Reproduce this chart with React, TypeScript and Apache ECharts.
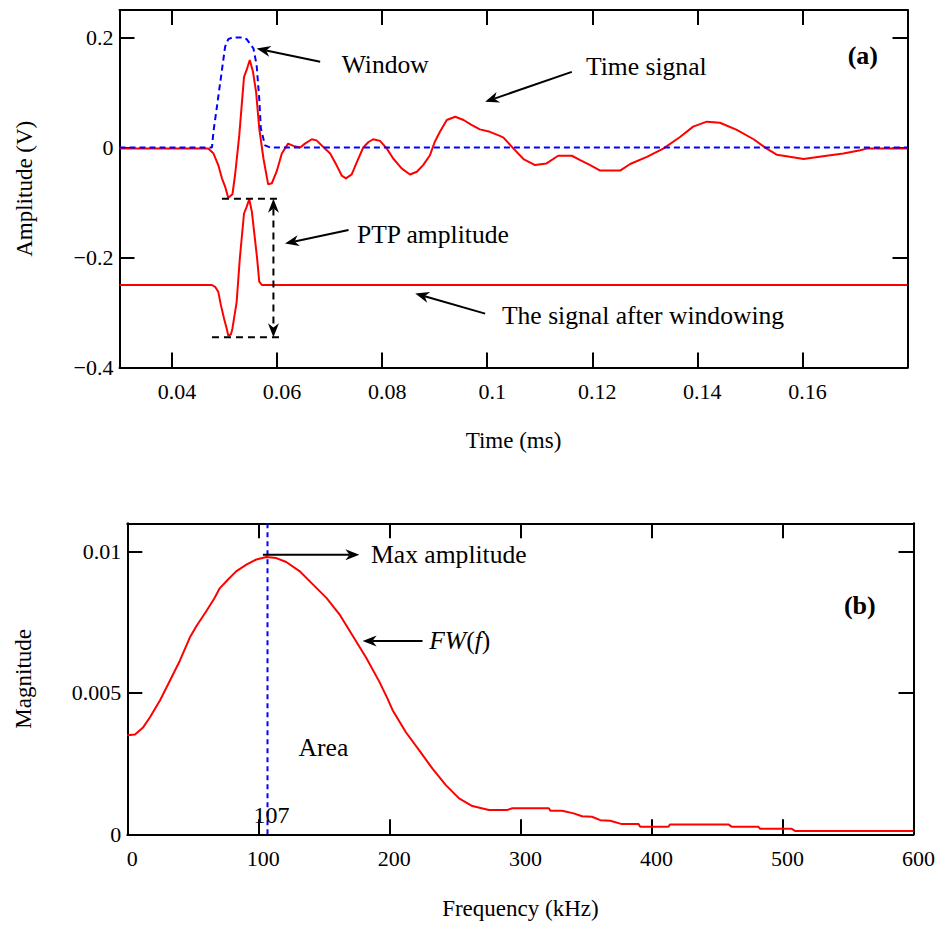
import React, { useEffect, useRef } from "react";
import * as echarts from "echarts";

// ---------- Data ----------
// (a) Time signal
const timeT = [0.03, 0.0469, 0.0479, 0.0488, 0.0495, 0.0501, 0.0507, 0.0515, 0.052, 0.0528, 0.0537, 0.0542, 0.0548, 0.0554, 0.056, 0.0566, 0.0574, 0.0583, 0.059, 0.0599, 0.0609, 0.0621, 0.0631, 0.0644, 0.0653, 0.0666, 0.0675, 0.0688, 0.0701, 0.0713, 0.0723, 0.0731, 0.0742, 0.0752, 0.0764, 0.0774, 0.0783, 0.0796, 0.0809, 0.0821, 0.0837, 0.0853, 0.0866, 0.0878, 0.0891, 0.09, 0.091, 0.0923, 0.0939, 0.0955, 0.097, 0.0986, 0.1005, 0.1024, 0.1031, 0.105, 0.1069, 0.1091, 0.1113, 0.1135, 0.1161, 0.1177, 0.1196, 0.1215, 0.1253, 0.1272, 0.1304, 0.1335, 0.1367, 0.1392, 0.1418, 0.1443, 0.1475, 0.1507, 0.1532, 0.1551, 0.1576, 0.1602, 0.1646, 0.1678, 0.171, 0.1722, 0.18];
const timeV = [-0.002, -0.002, -0.011, -0.032, -0.056, -0.071, -0.0915, -0.085, -0.05, 0.0225, 0.128, 0.141, 0.159, 0.138, 0.101, 0.035, -0.02, -0.067, -0.065, -0.044, -0.011, 0.007, 0.003, 0, 0.007, 0.015, 0.013, 0.001, -0.011, -0.032, -0.051, -0.056, -0.049, -0.026, 0, 0.01, 0.015, 0.012, -0.002, -0.02, -0.038, -0.049, -0.044, -0.032, -0.014, 0.01, 0.0285, 0.05, 0.056, 0.05, 0.041, 0.033, 0.0285, 0.021, 0.018, -0.002, -0.021, -0.032, -0.029, -0.015, -0.015, -0.023, -0.032, -0.042, -0.042, -0.03, -0.017, -0.002, 0.019, 0.038, 0.047, 0.045, 0.032, 0.015, -0.002, -0.013, -0.017, -0.021, -0.015, -0.011, -0.005, -0.002, -0.002];

// (a) Window
const winT = [0.03, 0.0476, 0.0479, 0.0485, 0.0491, 0.0501, 0.0507, 0.0515, 0.0535, 0.0542, 0.0555, 0.0561, 0.0566, 0.0569, 0.0577, 0.0587, 0.18];
const winV = [0, 0, 0.03, 0.071, 0.113, 0.183, 0.197, 0.2, 0.2, 0.197, 0.18, 0.15, 0.089, 0.035, 0.004, 0, 0];

// (a) Signal after windowing
const wsT = [0.03, 0.0476, 0.0482, 0.0488, 0.0493, 0.0499, 0.0504, 0.0507, 0.0512, 0.0515, 0.0523, 0.0529, 0.0537, 0.0542, 0.0547, 0.0552, 0.0558, 0.0562, 0.0566, 0.0571, 0.0574, 0.18];
const wsV = [-0.25, -0.25, -0.2533, -0.2624, -0.2866, -0.311, -0.329, -0.342, -0.34, -0.329, -0.281, -0.202, -0.12, -0.108, -0.094, -0.117, -0.168, -0.202, -0.244, -0.25, -0.25, -0.25];

// (b) Spectrum FW(f)
const freqF = [0, 5.9, 12.2, 17.3, 24.9, 30, 40.1, 47.7, 52.8, 60.4, 66.7, 70.5, 76.9, 83.3, 90.9, 98.5, 106.1, 113.7, 121.3, 131.4, 141.6, 151.8, 161.9, 172, 182.2, 192.3, 198.6, 202.4, 212.6, 222.8, 232.9, 243.1, 253.2, 263.3, 276, 290, 293.8, 321.7, 323, 331.8, 340.7, 347, 354.6, 361, 368.6, 377.5, 390.2, 391.4, 413, 414.3, 458.7, 461.2, 481.5, 482.8, 506.8, 509.5, 600];
const freqM = [0.0035, 0.00353, 0.00379, 0.00414, 0.00473, 0.0052, 0.00614, 0.00696, 0.00737, 0.0079, 0.00837, 0.0087, 0.00901, 0.00931, 0.00954, 0.00972, 0.00981, 0.00977, 0.00963, 0.00931, 0.00884, 0.00837, 0.00778, 0.00702, 0.00625, 0.0054, 0.0048, 0.0044, 0.00361, 0.00297, 0.00232, 0.00174, 0.00127, 0.001, 0.00086, 0.00086, 0.00092, 0.00092, 0.00083, 0.00083, 0.00074, 0.00064, 0.00062, 0.0005, 0.00048, 0.00036, 0.00036, 0.00027, 0.00027, 0.00035, 0.00035, 0.00027, 0.00027, 0.0002, 0.0002, 0.00012, 0.00012];

const peakFreq = 107;

// Tick values
const timeTicks = [0.04, 0.06, 0.08, 0.1, 0.12, 0.14, 0.16];
const ampTicks = [-0.4, -0.2, 0, 0.2];
const freqTicks = [0, 100, 200, 300, 400, 500, 600];
const magTicks = [0, 0.005, 0.01];

const FONT = "Liberation Serif";
const ANN = 25.6;

function pairs(xs: number[], ys: number[]) {
  return xs.map((x, i) => [x, ys[i]]);
}

function fmt(v: number) {
  return v < 0 ? "\u2212" + String(-v) : String(v);
}

function axisBase(ticks: number[], showLabel: boolean, extra: any = {}) {
  return {
    type: "value",
    axisLine: { show: true, onZero: false, lineStyle: { color: "#000", width: 2 } },
    axisTick: { show: true, inside: true, length: 15, customValues: ticks, lineStyle: { color: "#000", width: 2 } },
    axisLabel: showLabel
      ? { show: true, customValues: ticks, formatter: (v: number) => fmt(v), color: "#000", fontSize: 22, fontFamily: FONT }
      : { show: false },
    splitLine: { show: false },
    ...extra,
  };
}

export default function App() {
  const ref = useRef<HTMLDivElement>(null);
  useEffect(() => {
    const chart = echarts.init(ref.current!, null, { renderer: "svg" });
    const nameStyle = { color: "#000", fontSize: 23, fontFamily: FONT };
    const option: any = {
      animation: false,
      backgroundColor: "#fff",
      textStyle: { fontFamily: FONT },
      grid: [
        { left: 119.5, top: 10, width: 788, height: 357.5 },
        { left: 127.3, top: 523.3, width: 788.4, height: 311 },
      ],
      xAxis: [
        (() => {
          const a: any = axisBase(timeTicks, true, {
            gridIndex: 0, position: "bottom", min: 0.03, max: 0.18,
            name: "Time (ms)", nameLocation: "middle", nameGap: 61, nameTextStyle: nameStyle,
          });
          a.axisLabel.margin = 13;
          a.axisLabel.padding = [0, 0, 0, 10];
          return a;
        })(),
        axisBase(timeTicks, false, { gridIndex: 0, position: "top", min: 0.03, max: 0.18 }),
        (() => {
          const a: any = axisBase(freqTicks, true, {
            gridIndex: 1, position: "bottom", min: 0, max: 600,
            name: "Frequency (kHz)", nameLocation: "middle", nameGap: 63, nameTextStyle: nameStyle,
          });
          a.axisLabel.margin = 13;
          a.axisLabel.padding = [0, 0, 0, 10];
          return a;
        })(),
        axisBase(freqTicks, false, { gridIndex: 1, position: "top", min: 0, max: 600 }),
      ],
      yAxis: [
        (() => {
          const a: any = axisBase(ampTicks, true, {
            gridIndex: 0, position: "left", min: -0.4, max: 0.25,
            name: "Amplitude (V)", nameLocation: "middle", nameGap: 84, nameRotate: 90, nameTextStyle: nameStyle,
          });
          a.axisLabel.margin = 6;
          return a;
        })(),
        axisBase(ampTicks, false, { gridIndex: 0, position: "right", min: -0.4, max: 0.25 }),
        (() => {
          const a: any = axisBase(magTicks, true, {
            gridIndex: 1, position: "left", min: 0, max: 0.011,
            name: "Magnitude", nameLocation: "middle", nameGap: 92, nameRotate: 90, nameTextStyle: nameStyle,
          });
          a.axisLabel.margin = 6;
          return a;
        })(),
        axisBase(magTicks, false, { gridIndex: 1, position: "right", min: 0, max: 0.011 }),
      ],
      series: [
        {
          name: "Time signal", type: "line", xAxisIndex: 0, yAxisIndex: 0,
          data: pairs(timeT, timeV), showSymbol: false, symbol: "none",
          lineStyle: { color: "#ff0000", width: 2 }, z: 3,
        },
        {
          name: "Window", type: "line", xAxisIndex: 0, yAxisIndex: 0,
          data: pairs(winT, winV), showSymbol: false, symbol: "none",
          lineStyle: { color: "#0000ff", width: 2, type: [6, 4] }, z: 4,
        },
        {
          name: "The signal after windowing", type: "line", xAxisIndex: 0, yAxisIndex: 0,
          data: pairs(wsT, wsV), showSymbol: false, symbol: "none",
          lineStyle: { color: "#ff0000", width: 2 }, z: 3,
        },
        {
          name: "FW(f)", type: "line", xAxisIndex: 2, yAxisIndex: 2,
          data: pairs(freqF, freqM), showSymbol: false, symbol: "none",
          lineStyle: { color: "#ff0000", width: 2 }, z: 3,
        },
        {
          name: "Peak", type: "line", xAxisIndex: 2, yAxisIndex: 2,
          data: [[peakFreq, 0], [peakFreq, 0.011]], showSymbol: false, symbol: "none",
          lineStyle: { color: "#0000ff", width: 2, type: [5, 4] }, z: 4,
        },
      ],
    };
    chart.setOption(option);

    const P = (g: number, x: number, y: number) => chart.convertToPixel({ gridIndex: g }, [x, y]) as number[];

    const graphics: any[] = [];
    const text = (g: number, x: number, y: number, t: string, opts: any = {}) => {
      const p = P(g, x, y);
      graphics.push({
        type: "text", x: p[0], y: p[1], z: 10,
        style: {
          text: t, fill: "#000", fontSize: ANN, fontFamily: FONT,
          align: "left", verticalAlign: "middle", ...opts,
        },
      });
    };
    const head = (tip: number[], from: number[], len = 14, half = 5.5) => {
      const dx = tip[0] - from[0], dy = tip[1] - from[1];
      const L = Math.hypot(dx, dy) || 1;
      const ux = dx / L, uy = dy / L;
      const px = -uy, py = ux;
      const bx = tip[0] - ux * len, by = tip[1] - uy * len;
      const notch = [tip[0] - ux * len * 0.7, tip[1] - uy * len * 0.7];
      graphics.push({
        type: "polygon", z: 10,
        shape: { points: [tip, [bx + px * half, by + py * half], notch, [bx - px * half, by - py * half]] },
        style: { fill: "#000" },
      });
      return notch;
    };
    const arrow = (g: number, from: number[], to: number[]) => {
      const a = P(g, from[0], from[1]);
      const b = P(g, to[0], to[1]);
      const n = head(b, a);
      graphics.push({
        type: "line", z: 10,
        shape: { x1: a[0], y1: a[1], x2: n[0], y2: n[1] },
        style: { stroke: "#000", lineWidth: 2 },
      });
    };
    const dashed = (g: number, from: number[], to: number[]) => {
      const a = P(g, from[0], from[1]);
      const b = P(g, to[0], to[1]);
      graphics.push({
        type: "line", z: 10,
        shape: { x1: a[0], y1: a[1], x2: b[0], y2: b[1] },
        style: { stroke: "#000", lineWidth: 2, lineDash: [7, 5] },
      });
    };

    // (a) annotations
    text(0, 0.0723, 0.151, "Window");
    arrow(0, [0.0682, 0.156], [0.0561, 0.18]);
    text(0, 0.1188, 0.1467, "Time signal");
    arrow(0, [0.1161, 0.1376], [0.0996, 0.083]);
    text(0, 0.0752, -0.159, "PTP amplitude");
    arrow(0, [0.0736, -0.15], [0.0615, -0.1745]);
    text(0, 0.1028, -0.305, "The signal after windowing");
    arrow(0, [0.0996, -0.302], [0.0863, -0.2655]);
    text(0, 0.1715, 0.168, "(a)", { fontWeight: "bold", fontSize: 26, align: "center" });
    dashed(0, [0.0495, -0.093], [0.0609, -0.093]);
    dashed(0, [0.0476, -0.345], [0.0612, -0.345]);
    {
      const top = P(0, 0.0593, -0.093);
      const bot = P(0, 0.0593, -0.345);
      const n1 = head(top, bot, 14, 5.5);
      const n2 = head(bot, top, 14, 5.5);
      graphics.push({
        type: "line", z: 10,
        shape: { x1: n1[0], y1: n1[1], x2: n2[0], y2: n2[1] },
        style: { stroke: "#000", lineWidth: 2, lineDash: [7, 5] },
      });
    }

    // (b) annotations
    text(1, 186, 0.00989, "Max amplitude");
    arrow(1, [103.5, 0.00989], [177.1, 0.00989]);
    text(1, 230.4, 0.00684, "{i|FW}{n|(}{i|f}{n|)}", {
      rich: {
        i: { fontStyle: "italic", fontSize: ANN, fontFamily: FONT, fill: "#000" },
        n: { fontSize: ANN, fontFamily: FONT, fill: "#000" },
      },
    });
    arrow(1, [225.3, 0.00684], [179.6, 0.00684]);
    text(1, 130.7, 0.00308, "Area");
    text(1, 96.4, 0.00068, "107", { fontSize: 24 });
    text(1, 559, 0.00811, "(b)", { fontWeight: "bold", fontSize: 26, align: "center" });

    chart.setOption({ graphic: graphics });

    return () => chart.dispose();
  }, []);
  return (
    <>
      <style>{".serif-chart svg text, .serif-chart svg tspan { font-family: 'Liberation Serif', serif !important; }"}</style>
      <div className="serif-chart" ref={ref} style={{ position: "absolute", left: 0, top: 0, width: 938, height: 925, fontFamily: "'Liberation Serif', serif" }} />
    </>
  );
}
